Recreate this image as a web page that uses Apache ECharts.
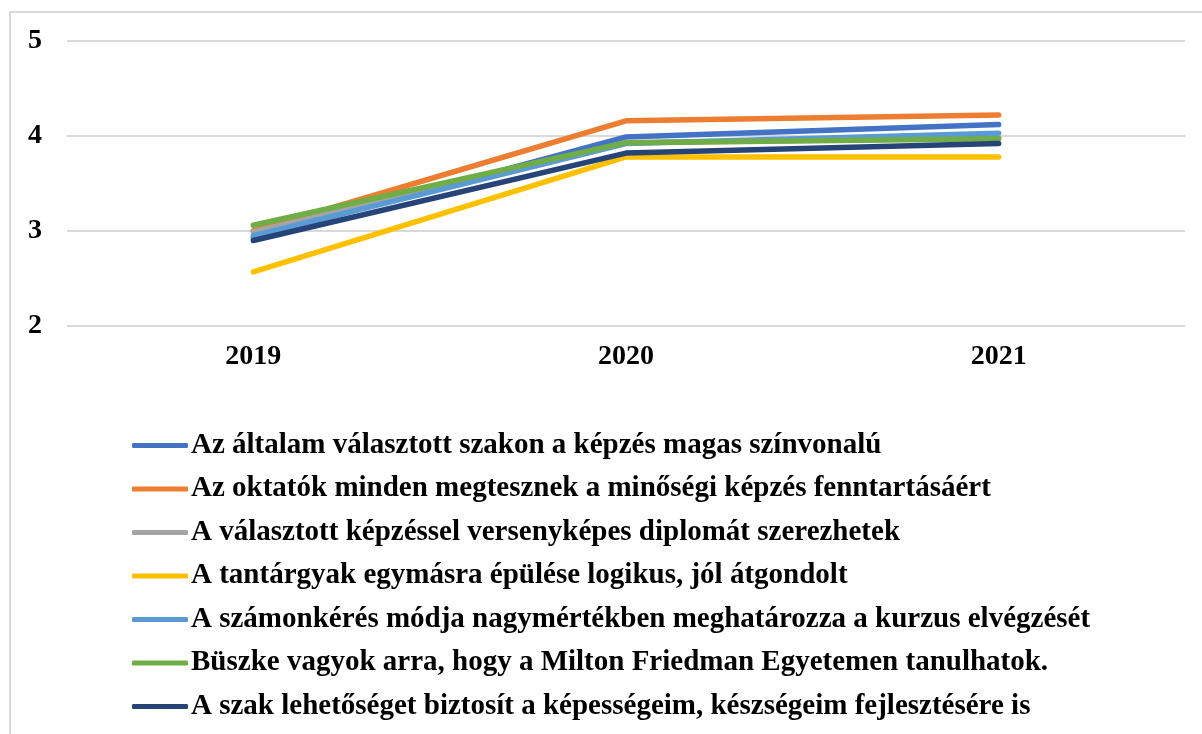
<!DOCTYPE html>
<html>
<head>
<meta charset="utf-8">
<script src="https://cdn.jsdelivr.net/npm/echarts@6/dist/echarts.min.js"></script>
<style>
  html, body { margin: 0; padding: 0; background: #fff; }
  #frame { position: absolute; left: 9px; top: 11px; width: 1193px; height: 723px;
           border-left: 2px solid #d9d9d9; border-top: 2px solid #d9d9d9; }
  #chart { position: absolute; left: 0; top: 0; width: 1202px; height: 734px; }
</style>
</head>
<body>
<div id="frame"></div>
<div id="chart"></div>
<script>
const years = ['2019', '2020', '2021']

const seriesNames = [
  'Az általam választott szakon a képzés magas színvonalú',
  'Az oktatók minden megtesznek a minőségi képzés fenntartásáért',
  'A választott képzéssel versenyképes diplomát szerezhetek',
  'A tantárgyak egymásra épülése logikus, jól átgondolt',
  'A számonkérés módja nagymértékben meghatározza a kurzus elvégzését',
  'Büszke vagyok arra, hogy a Milton Friedman Egyetemen tanulhatok.',
  'A szak lehetőséget biztosít a képességeim, készségeim fejlesztésére is'
]

const quality = [2.93, 3.99, 4.12]
const teachers = [3.00, 4.16, 4.22]
const diploma = [2.99, 3.93, 3.98]
const subjects = [2.57, 3.78, 3.78]
const exams = [2.95, 3.92, 4.03]
const proud = [3.06, 3.93, 3.97]
const skills = [2.90, 3.82, 3.92]

const seriesValues = [quality, teachers, diploma, subjects, exams, proud, skills]
const colors = ['#4472C4', '#ED7D31', '#A5A5A5', '#FFC000', '#5B9BD5', '#70AD47', '#264478']

const font = '"Liberation Serif", "Times New Roman", serif'

const chart = echarts.init(document.getElementById('chart'))

chart.setOption({
  animation: false,
  color: colors,
  grid: {
    left: 67,
    right: 17,
    top: 41,
    height: 285
  },
  xAxis: {
    type: 'category',
    data: years,
    boundaryGap: true,
    axisLine: { show: false },
    axisTick: { show: false },
    axisLabel: {
      margin: 17,
      color: '#000',
      fontFamily: font,
      fontWeight: 'bold',
      fontSize: 28
    }
  },
  yAxis: {
    type: 'value',
    min: 2,
    max: 5,
    interval: 1,
    axisLine: { show: false },
    axisTick: { show: false },
    splitLine: { lineStyle: { color: '#d9d9d9', width: 2 } },
    axisLabel: {
      margin: 25,
      color: '#000',
      fontFamily: font,
      fontWeight: 'bold',
      fontSize: 28
    }
  },
  legend: {
    orient: 'vertical',
    left: 132,
    top: 431,
    padding: 0,
    icon: 'roundRect',
    itemWidth: 56,
    itemHeight: 5,
    itemGap: 14.5,
    textStyle: {
      color: '#000',
      fontFamily: font,
      fontWeight: 'bold',
      fontSize: 29,
      padding: [0, 0, 0, -2]
    },
    data: seriesNames
  },
  series: seriesNames.map((name, i) => ({
    name: name,
    type: 'line',
    data: seriesValues[i],
    symbol: 'none',
    lineStyle: { width: 5.5, cap: 'round', join: 'round' }
  }))
})
</script>
</body>
</html>
